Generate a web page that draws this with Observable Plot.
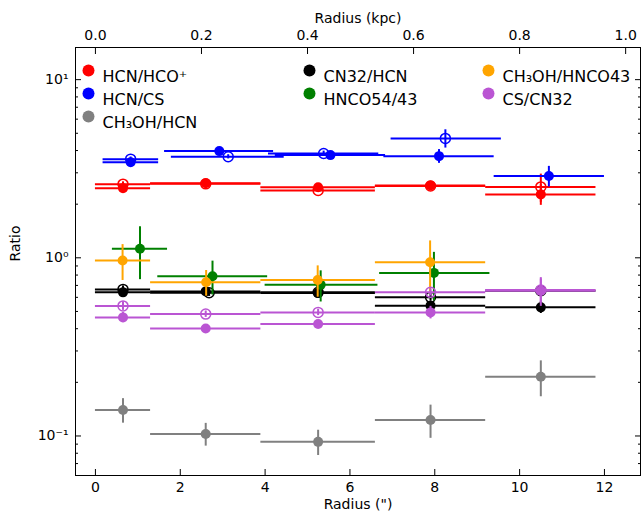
<!DOCTYPE html>
<html><head><meta charset="utf-8">
<script src="https://cdn.jsdelivr.net/npm/d3@7"></script>
<script src="https://cdn.jsdelivr.net/npm/@observablehq/plot@0.6"></script>
<style>html,body{margin:0;padding:0;background:#fff;} svg{display:block}</style>
</head><body><div id="chart"></div>
<script>
// ---- axis ticks ----
const xTicks = [0, 2, 4, 6, 8, 10, 12];
const kpcTicks = [0.0, 0.2, 0.4, 0.6, 0.8, 1.0];
const kpcLabels = ["0.0", "0.2", "0.4", "0.6", "0.8", "1.0"];
const arcsecPerKpc = 12.5;
const yMajor = [0.1, 1, 10];
const yMajorLabels = ["10⁻¹", "10⁰", "10¹"];
const yMinor = [0.06,0.07,0.08,0.09,0.2,0.3,0.4,0.5,0.6,0.7,0.8,0.9,2,3,4,5,6,7,8,9];

// ---- common radial bins (arcsec) ----
const binMid = [0.65, 2.6, 5.25, 7.9, 10.5];
const binLo  = [0.0, 1.3, 3.9, 6.6, 9.2];
const binHi  = [1.3, 3.9, 6.6, 9.2, 11.8];

// HCN/HCO+
const hcnHcoFilled = [2.46, 2.62, 2.49, 2.55, 2.27];
const hcnHcoFilledErr = [0.08, 0.08, 0.08, 0.08, 0.30];
const hcnHcoOpen = [2.59, 2.60, 2.39, 2.53, 2.50];
const hcnHcoOpenErr = [0.08, 0.06, 0.06, 0.06, 0.45];

// HCN/CS
const hcnCsFilledX  = [0.83, 2.92, 5.54, 8.10, 10.69];
const hcnCsFilledLo = [0.18, 1.63, 4.24, 6.80, 9.40];
const hcnCsFilledHi = [1.49, 4.20, 6.84, 9.40, 12.0];
const hcnCsFilled = [3.44, 3.97, 3.77, 3.72, 2.88];
const hcnCsFilledErr = [0.12, 0.12, 0.12, 0.33, 0.38];
const hcnCsOpenX  = [0.83, 3.13, 5.38, 8.25];
const hcnCsOpenLo = [0.18, 1.79, 4.08, 6.97];
const hcnCsOpenHi = [1.49, 4.45, 6.68, 9.57];
const hcnCsOpen = [3.58, 3.69, 3.85, 4.68];
const hcnCsOpenErr = [0.10, 0.10, 0.12, 0.55];

// CH3OH/HCN
const ch3ohHcn = [0.140, 0.1027, 0.0927, 0.123, 0.215];
const ch3ohHcnErr = [0.022, 0.015, 0.015, 0.026, 0.049];

// CN32/HCN
const cnHcnFilled = [0.640, 0.648, 0.635, 0.539, 0.527];
const cnHcnFilledErr = [0.03, 0.03, 0.03, 0.03, 0.04];
const cnHcnOpenX = [0.65, 2.68, 5.25, 7.9, 10.5];
const cnHcnOpen = [0.665, 0.637, 0.640, 0.600, 0.654];
const cnHcnOpenErr = [0.03, 0.03, 0.03, 0.03, 0.03];

// HNCO54/43
const hncoX  = [1.05, 2.76, 5.31, 7.98];
const hncoLo = [0.40, 1.47, 4.00, 6.70];
const hncoHi = [1.70, 4.06, 6.66, 9.30];
const hnco = [1.124, 0.788, 0.705, 0.823];
const hncoErr = [0.37, 0.17, 0.14, 0.25];

// CH3OH/HNCO43
const ch3ohHncoX  = [0.64, 2.61, 5.24, 7.89];
const ch3ohHncoLo = [0.0, 1.3, 3.9, 6.6];
const ch3ohHncoHi = [1.3, 3.9, 6.6, 9.2];
const ch3ohHnco = [0.966, 0.729, 0.751, 0.944];
const ch3ohHncoErr = [0.22, 0.12, 0.15, 0.30];

// CS/CN32
const csCnFilled = [0.463, 0.401, 0.425, 0.494, 0.654];
const csCnFilledErr = [0.03, 0.02, 0.02, 0.04, 0.12];
const csCnOpen = [0.537, 0.483, 0.494, 0.640, 0.660];
const csCnOpenErr = [0.03, 0.02, 0.02, 0.03, 0.10];

const legendNames = ["HCN/HCO⁺", "HCN/CS", "CH₃OH/HCN", "CN32/HCN", "HNCO54/43", "CH₃OH/HNCO43", "CS/CN32"];
const colors = ["#ff0000", "#0000ff", "#808080", "#000000", "#008000", "#ffa500", "#ba55d3"];

const groups = [
  {c: 0, open: false, x: binMid, lo: binLo, hi: binHi, v: hcnHcoFilled, e: hcnHcoFilledErr},
  {c: 0, open: true,  x: binMid, lo: binLo, hi: binHi, v: hcnHcoOpen, e: hcnHcoOpenErr},
  {c: 1, open: false, x: hcnCsFilledX, lo: hcnCsFilledLo, hi: hcnCsFilledHi, v: hcnCsFilled, e: hcnCsFilledErr},
  {c: 1, open: true,  x: hcnCsOpenX, lo: hcnCsOpenLo, hi: hcnCsOpenHi, v: hcnCsOpen, e: hcnCsOpenErr},
  {c: 2, open: false, x: binMid, lo: binLo, hi: binHi, v: ch3ohHcn, e: ch3ohHcnErr},
  {c: 3, open: false, x: binMid, lo: binLo, hi: binHi, v: cnHcnFilled, e: cnHcnFilledErr},
  {c: 3, open: true,  x: cnHcnOpenX, lo: binLo, hi: binHi, v: cnHcnOpen, e: cnHcnOpenErr},
  {c: 4, open: false, x: hncoX, lo: hncoLo, hi: hncoHi, v: hnco, e: hncoErr},
  {c: 5, open: false, x: ch3ohHncoX, lo: ch3ohHncoLo, hi: ch3ohHncoHi, v: ch3ohHnco, e: ch3ohHncoErr},
  {c: 6, open: false, x: binMid, lo: binLo, hi: binHi, v: csCnFilled, e: csCnFilledErr},
  {c: 6, open: true,  x: binMid, lo: binLo, hi: binHi, v: csCnOpen, e: csCnOpenErr}
];

const dataMarks = groups.flatMap(g => {
  const rows = g.v.map((v, i) => ({x: g.x[i], xlo: g.lo[i], xhi: g.hi[i], y: v, ylo: v - g.e[i], yhi: v + g.e[i]}));
  const col = colors[g.c];
  return [
    Plot.ruleY(rows, {y: "y", x1: "xlo", x2: "xhi", stroke: col, strokeWidth: 2}),
    Plot.ruleX(rows, {x: "x", y1: "ylo", y2: "yhi", stroke: col, strokeWidth: 2}),
    Plot.dot(rows, {x: "x", y: "y", r: 5, fill: g.open ? "none" : col, stroke: g.open ? col : "none", strokeWidth: 1.5})
  ];
});

// legend layout (pixels relative to frame top-left)
const legCols = [13, 234, 413];
const legRows = [23, 46, 69];
const legSlots = [[0,0],[0,1],[0,2],[1,0],[1,1],[2,0],[2,1]];
const legendMarks = legendNames.flatMap((name, i) => {
  const [ci, ri] = legSlots[i];
  return [
    Plot.dot([0], {frameAnchor: "top-left", dx: legCols[ci], dy: legRows[ri], r: 6, fill: colors[i]}),
    Plot.text([name], {frameAnchor: "top-left", dx: legCols[ci] + 14, dy: legRows[ri], textAnchor: "start", fontSize: 16, fill: "black"})
  ];
});

const yLabel = d => {
  const k = yMajor.findIndex(t => Math.abs(Math.log10(t) - Math.log10(d)) < 1e-6);
  return k >= 0 ? yMajorLabels[k] : "";
};

const chart = Plot.plot({
  width: 642, height: 521,
  marginLeft: 75, marginRight: 2, marginTop: 47, marginBottom: 46,
  style: {fontFamily: "DejaVu Sans", fontSize: "14px", color: "black", background: "white", overflow: "visible"},
  x: {type: "linear", domain: [-0.47, 12.85]},
  y: {type: "log", domain: [0.060, 15.15]},
  marks: [
    Plot.axisX({anchor: "bottom", ticks: xTicks, tickSize: -6, tickPadding: 13, fontSize: 14, label: null}),
    Plot.axisX({anchor: "top", ticks: kpcTicks.map(k => k * arcsecPerKpc), tickFormat: (d, i) => kpcLabels[i], tickSize: -6, tickPadding: 14, fontSize: 14, label: null}),
    Plot.axisY({anchor: "left", ticks: yMajor, tickSize: -6, tickFormat: () => "", label: null}),
    Plot.axisY({anchor: "left", ticks: yMinor, tickFormat: () => "", tickSize: -3, label: null}),
    Plot.axisY({anchor: "right", ticks: yMajor, tickFormat: () => "", tickSize: -6, label: null}),
    Plot.axisY({anchor: "right", ticks: yMinor, tickFormat: () => "", tickSize: -3, label: null}),
    Plot.text(yMajor, {y: d => d, text: yLabel, frameAnchor: "left", dx: -7, textAnchor: "end", fontSize: 14, fill: "black"}),
    Plot.frame({stroke: "black", strokeWidth: 1}),
    ...dataMarks,
    ...legendMarks,
    Plot.text(["Radius (\")"], {frameAnchor: "bottom", dy: 33, fontSize: 14}),
    Plot.text(["Radius (kpc)"], {frameAnchor: "top", dy: -34, fontSize: 14}),
    Plot.text(["Ratio"], {frameAnchor: "left", dx: -60, rotate: -90, fontSize: 14})
  ]
});
document.getElementById("chart").append(chart);
</script></body></html>
